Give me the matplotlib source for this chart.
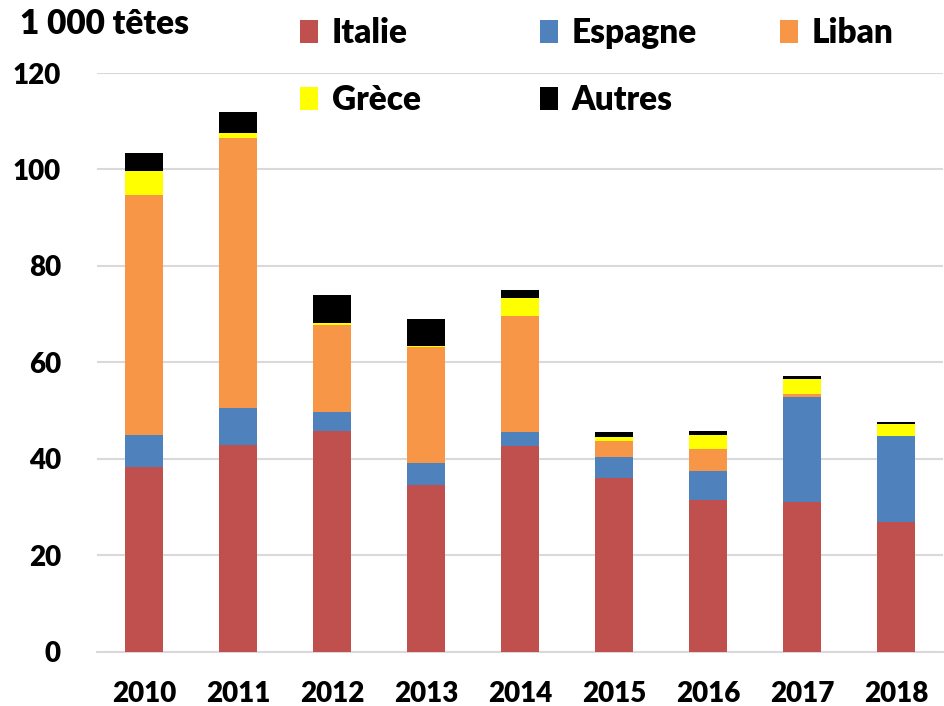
import matplotlib.pyplot as plt
import numpy as np

# data (1 000 heads)
years = ['2010', '2011', '2012', '2013', '2014', '2015', '2016', '2017', '2018']
italie = [38.3, 42.8, 45.8, 34.6, 42.6, 36.1, 31.4, 31.0, 27.0]
espagne = [6.7, 7.7, 4.0, 4.5, 2.9, 4.4, 6.2, 21.8, 17.8]
liban = [49.7, 56.0, 18.0, 24.1, 24.1, 3.3, 4.5, 0.6, 0.0]
grece = [4.9, 1.1, 0.3, 0.3, 3.8, 0.7, 2.9, 3.1, 2.5]
autres = [3.9, 4.3, 5.8, 5.5, 1.6, 1.0, 0.7, 0.7, 0.3]

series = [('Italie', italie, '#c0504d'),
          ('Espagne', espagne, '#4f81bd'),
          ('Liban', liban, '#f79646'),
          ('Grèce', grece, '#ffff00'),
          ('Autres', autres, '#000000')]

plt.rcParams['font.family'] = ['Lato', 'DejaVu Sans']
W = 'heavy'

fig = plt.figure(figsize=(9.45, 7.06), dpi=100)
ax = fig.add_axes([0.1026, 0.0765, 0.8954, 0.8201])

x = np.arange(len(years))
bottom = np.zeros(len(years))
handles = {}
for name, vals, col in series:
    b = ax.bar(x, vals, 0.4, bottom=bottom, color=col, label=name, zorder=3)
    handles[name] = b
    bottom += np.array(vals)

ax.set_xlim(-0.5, len(years) - 0.5)
ax.set_ylim(0, 120)
ax.set_yticks(range(0, 121, 20))
ax.set_xticks(x)
ax.set_xticklabels(years)
ax.yaxis.grid(True, color='#d9d9d9', linewidth=1.5, zorder=0)
ax.set_axisbelow(True)
for s in ['top', 'right', 'left']:
    ax.spines[s].set_visible(False)
ax.spines['bottom'].set_color('#d9d9d9')
ax.spines['bottom'].set_linewidth(1.5)
ax.tick_params(axis='both', length=0, labelsize=20)
ax.tick_params(axis='x', pad=21)
ax.tick_params(axis='y', pad=26)
for t in ax.get_xticklabels() + ax.get_yticklabels():
    t.set_fontweight(W)

fig.text(0.021, 0.966, '1 000 têtes', fontsize=24, fontweight=W, va='center')

# legend entries placed one by one (two rows)
legend_pos = {'Italie': (0.3175, 0.953), 'Espagne': (0.5714, 0.953),
              'Liban': (0.8254, 0.953), 'Grèce': (0.3175, 0.858),
              'Autres': (0.5714, 0.858)}
for name, (lx, ly) in legend_pos.items():
    fig.legend(handles=[handles[name]], labels=[name], loc='center left',
               bbox_to_anchor=(lx, ly), frameon=False, borderpad=0,
               borderaxespad=0, handlelength=0.55, handleheight=0.7,
               handletextpad=0.4, prop={'weight': W, 'size': 24})

fig.savefig('out.png', dpi=100)
